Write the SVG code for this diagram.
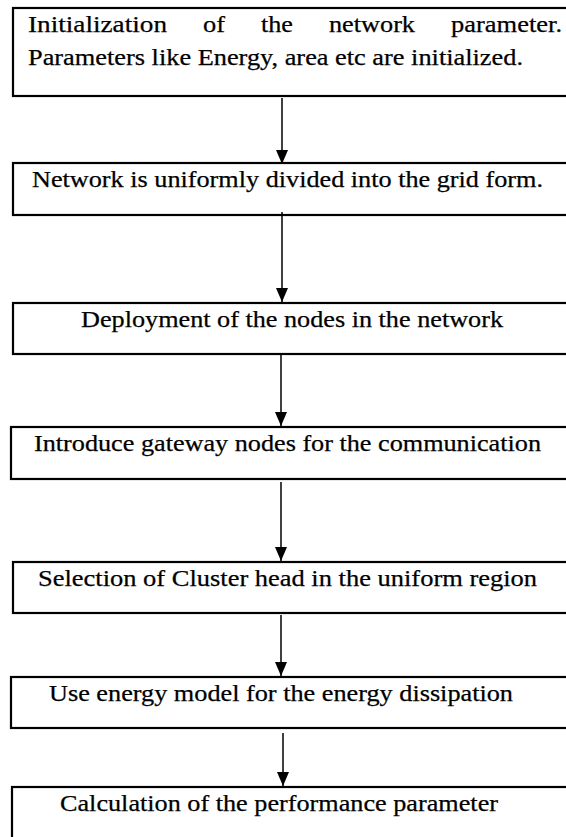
<svg xmlns="http://www.w3.org/2000/svg" width="566" height="837" viewBox="0 0 566 837">
  <style>
    .box { fill: #ffffff; stroke: #000000; stroke-width: 2.2; }
    .lbl { font-family: 'Liberation Serif', 'Times New Roman', serif; font-size: 24px; fill: #000000; stroke: #000000; stroke-width: 0.25; }
    .edge { stroke: #000000; stroke-width: 1.5; fill: none; marker-end: url(#head); }
  </style>
  <defs>
    <marker id="head" viewBox="0 0 14 12" refX="14" refY="6" markerWidth="14" markerHeight="12" markerUnits="userSpaceOnUse" orient="auto">
      <path d="M0,0 L14,6 L0,12 Z" fill="#000000"/>
    </marker>
  </defs>
  <rect width="566" height="837" fill="#ffffff"/>

  <!-- process steps; labels use a widened serif face -->
  <g id="init">
    <rect class="box" x="13" y="8" width="570" height="88"/>
    <text class="lbl" x="28" y="32" textLength="139" lengthAdjust="spacingAndGlyphs">Initialization</text>
    <text class="lbl" x="203" y="32" textLength="22" lengthAdjust="spacingAndGlyphs">of</text>
    <text class="lbl" x="261" y="32" textLength="32" lengthAdjust="spacingAndGlyphs">the</text>
    <text class="lbl" x="329" y="32" textLength="86" lengthAdjust="spacingAndGlyphs">network</text>
    <text class="lbl" x="451" y="32" textLength="111" lengthAdjust="spacingAndGlyphs">parameter.</text>
    <text class="lbl" x="28" y="65" textLength="495" lengthAdjust="spacingAndGlyphs">Parameters like Energy, area etc are initialized.</text>
  </g>
  <g id="grid">
    <rect class="box" x="13" y="163" width="570" height="52"/>
    <text class="lbl" x="32" y="187" textLength="511" lengthAdjust="spacingAndGlyphs">Network is uniformly divided into the grid form.</text>
  </g>
  <g id="deploy">
    <rect class="box" x="13" y="303" width="570" height="51"/>
    <text class="lbl" x="81" y="327" textLength="422" lengthAdjust="spacingAndGlyphs">Deployment of the nodes in the network</text>
  </g>
  <g id="gateway">
    <rect class="box" x="11" y="427" width="570" height="52"/>
    <text class="lbl" x="34" y="451" textLength="507" lengthAdjust="spacingAndGlyphs">Introduce gateway nodes for the communication</text>
  </g>
  <g id="cluster">
    <rect class="box" x="13" y="562" width="570" height="51"/>
    <text class="lbl" x="38" y="586" textLength="499" lengthAdjust="spacingAndGlyphs">Selection of Cluster head in the uniform region</text>
  </g>
  <g id="energy">
    <rect class="box" x="11" y="677" width="570" height="51"/>
    <text class="lbl" x="49" y="701" textLength="464" lengthAdjust="spacingAndGlyphs">Use energy model for the energy dissipation</text>
  </g>
  <g id="perf">
    <rect class="box" x="12" y="787" width="570" height="70"/>
    <text class="lbl" x="60" y="811" textLength="438" lengthAdjust="spacingAndGlyphs">Calculation of the performance parameter</text>
  </g>

  <!-- flow arrows -->
  <g id="connectors">
    <line class="edge" x1="282" y1="98" x2="282" y2="164"/>
    <line class="edge" x1="282" y1="212" x2="282" y2="302"/>
    <line class="edge" x1="281" y1="353" x2="281" y2="426"/>
    <line class="edge" x1="281" y1="482" x2="281" y2="561"/>
    <line class="edge" x1="281" y1="615" x2="281" y2="676"/>
    <line class="edge" x1="283" y1="733" x2="283" y2="786"/>
  </g>
</svg>
